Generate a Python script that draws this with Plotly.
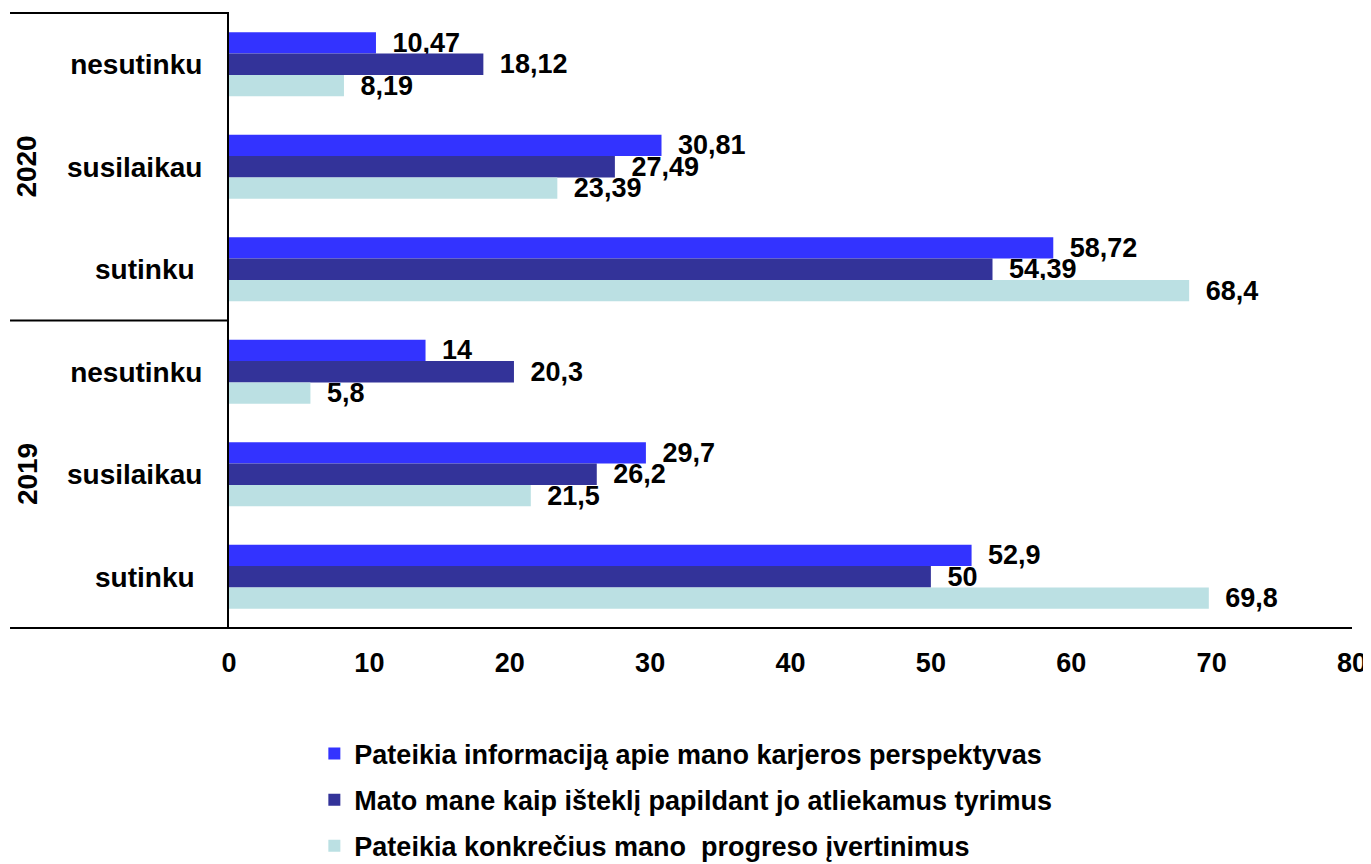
import plotly.graph_objects as go

years = ["2020", "2019"]
answers = ["nesutinku", "susilaikau", "sutinku"]
answer_labels = ["nesutinku", "susilaikau", "sutinku\u00a0"]
series_names = [
    "Pateikia informaciją apie mano karjeros perspektyvas",
    "Mato mane kaip išteklį papildant jo atliekamus tyrimus",
    "Pateikia konkrečius mano  progreso įvertinimus",
]
series_colors = ["#3333FF", "#333399", "#BBE0E3"]
# values in order: 2020 nesutinku, susilaikau, sutinku, 2019 nesutinku, susilaikau, sutinku
career = [10.47, 30.81, 58.72, 14, 29.7, 52.9]
resource = [18.12, 27.49, 54.39, 20.3, 26.2, 50]
progress = [8.19, 23.39, 68.4, 5.8, 21.5, 69.8]
series_values = [career, resource, progress]
x_ticks = [0, 10, 20, 30, 40, 50, 60, 70, 80]

cats = [f"{y} {a}" for y in years for a in answers]
cat_text = [lab for y in years for lab in answer_labels]

FONT = "Liberation Sans, Arial, sans-serif"
FS = 27
FS_CAT = 28

fig = go.Figure()
for i, (name, vals, col) in enumerate(zip(series_names, series_values, series_colors)):
    fig.add_trace(go.Bar(
        y=cats, x=vals, orientation="h", name=name,
        marker=dict(color=col, line=dict(width=0)),
        text=["\u2002" + f"{v:g}".replace(".", ",") for v in vals],
        textposition="outside", cliponaxis=False, constraintext="none",
        textfont=dict(family=FONT, size=FS, color="black", weight="bold"),
        legendgroup=f"g{i}",
    ))

fig.update_layout(
    width=1363, height=856,
    margin=dict(l=221, r=19, t=5, b=236, autoexpand=False),
    paper_bgcolor="white", plot_bgcolor="white",
    barmode="group", bargap=0.375, bargroupgap=0,
    font=dict(family=FONT, size=FS, color="black", weight="bold"),
    showlegend=True,
    legend=dict(x=0.076, y=-0.165, xanchor="left", yanchor="top",
                font=dict(family=FONT, size=FS, color="black", weight="bold"),
                tracegroupgap=8, bgcolor="rgba(0,0,0,0)"),
    xaxis=dict(range=[0, 80], tickvals=x_ticks, showgrid=False, zeroline=False,
               showline=False, ticks="", ticklabelstandoff=16, automargin=False,
               tickfont=dict(family=FONT, size=FS, color="black", weight="bold")),
    yaxis=dict(type="category", categoryorder="array", categoryarray=cats,
               autorange="reversed", tickvals=cats, ticktext=cat_text,
               showgrid=False, zeroline=False, showline=True, linecolor="black",
               linewidth=2, ticks="", ticklabelstandoff=19, automargin=False,
               tickfont=dict(family=FONT, size=FS_CAT, color="black", weight="bold")),
)

# divider lines
for yv in [1, 0.5]:
    fig.add_shape(type="line", xref="paper", yref="paper", x0=-0.195, x1=0, y0=yv, y1=yv,
                  line=dict(color="black", width=2))
fig.add_shape(type="line", xref="paper", yref="paper", x0=-0.195, x1=1, y0=0, y1=0,
              line=dict(color="black", width=2))

for yr, yp in zip(years, [0.75, 0.25]):
    fig.add_annotation(text=yr, xref="paper", yref="paper", x=-0.18, y=yp,
                       xanchor="center", yanchor="middle",
                       textangle=-90, showarrow=False,
                       font=dict(family=FONT, size=FS_CAT, color="black", weight="bold"))

fig.write_html("out.html")
